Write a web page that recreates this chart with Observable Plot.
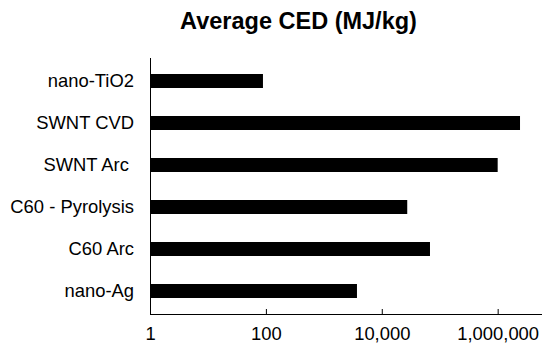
<!DOCTYPE html>
<html><head><meta charset="utf-8">
<script src="https://cdn.jsdelivr.net/npm/d3@7"></script>
<script src="https://cdn.jsdelivr.net/npm/@observablehq/plot@0.6"></script>
<style>
body{margin:0;background:#fff;font-family:Arial,"Liberation Sans",sans-serif}
#title{width:597px;height:44px;box-sizing:border-box;padding-top:8px;text-align:center;font-weight:bold;font-size:23.5px;line-height:normal;white-space:nowrap;color:#000}
</style></head><body>
<div id="title">Average CED (MJ/kg)</div>
<div id="chart"></div>
<script>
const categories = ["nano-TiO2", "SWNT CVD", "SWNT Arc ", "C60 - Pyrolysis", "C60 Arc", "nano-Ag"];
const values = [89, 2430000, 1000000, 27500, 67900, 3730];
const xTicks = [1, 100, 10000, 1000000];
const data = categories.map((c, i) => ({category: c, value: values[i]}));
const chart = Plot.plot({
  width: 542, height: 300, marginTop: 14, marginBottom: 30, marginLeft: 150, marginRight: 0,
  style: "font-family:Arial,'Liberation Sans',sans-serif;font-size:18.4px;color:#000;background:#fff;white-space:pre;overflow:visible",
  x: {type: "log", domain: [1, 10 ** 6.765], ticks: xTicks, tickFormat: d3.format(","), tickSize: 0, tickPadding: 12, label: null, line: true},
  y: {domain: categories, paddingInner: 0.655, paddingOuter: 0.3275, tickSize: 0, tickPadding: 16.5, label: null, line: true},
  marks: [
    Plot.barX(data, {y: "category", x1: () => 1, x2: "value", fill: "#000"}),
    Plot.tickX(xTicks, {x: d => d, insetTop: 251, stroke: "#000"})
  ]
});
document.getElementById("chart").appendChild(chart);
</script>
</body></html>
